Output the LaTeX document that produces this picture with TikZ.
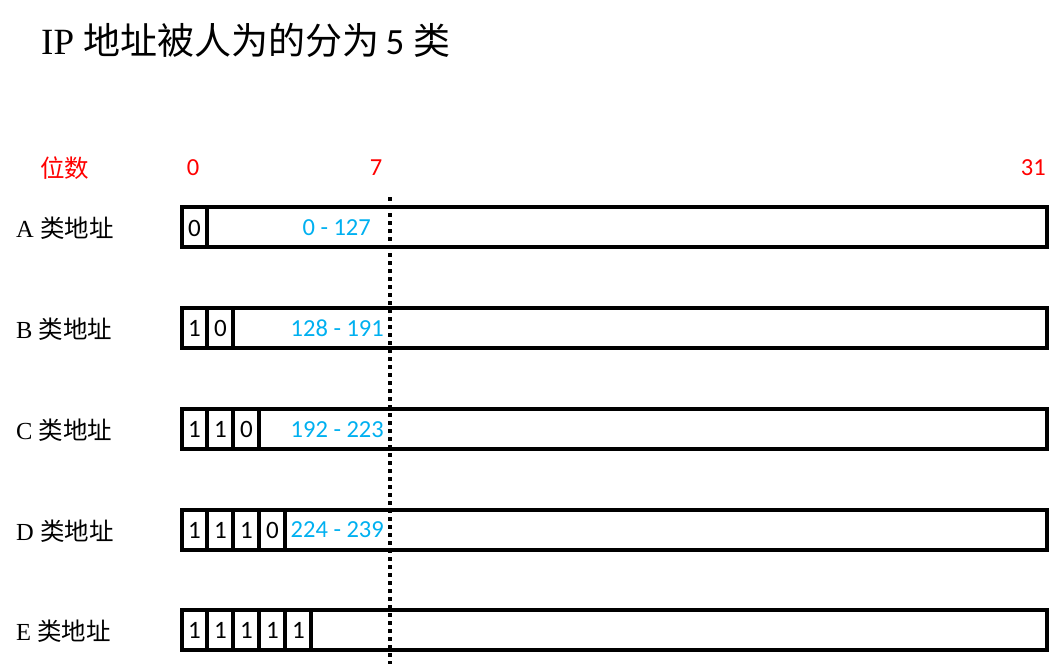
\documentclass[tikz,border=0pt]{standalone}
\usepackage{fontspec}
\setmainfont{Liberation Serif}
\newfontfamily\cjk{Noto Sans CJK SC}
\newfontfamily\calib{Carlito}
\definecolor{ipblue}{RGB}{0,176,240}
\definecolor{ipred}{RGB}{255,0,0}
\begin{document}
\begin{tikzpicture}[x=1pt,y=-1pt,
  ipbox/.style={draw=black,line width=4pt,outer sep=0pt},
  cellline/.style={draw=black,line width=4pt},
  rowlabel/.style={anchor=west,inner sep=0pt,font=\fontsize{24.5}{28}\selectfont},
  bitnum/.style={inner sep=0pt,font=\calib\fontsize{25}{28}\selectfont},
  rangetxt/.style={anchor=east,inner sep=0pt,text=ipblue,font=\calib\fontsize{24.5}{28}\selectfont},
  poslabel/.style={inner sep=0pt,text=ipred,font=\calib\fontsize{24.5}{28}\selectfont}]
\useasboundingbox (0,0) rectangle (1063,664);
% title
\node[anchor=west,inner sep=0pt,font=\fontsize{37}{42}\selectfont] (title) at (41,40) {IP {\cjk 地址被人为的分为}\,{\calib 5} {\cjk 类}};
% position labels
\node[poslabel,font=\cjk\fontsize{24.5}{28}\selectfont,anchor=west] (pos) at (40,168) {位数};
\node[poslabel] (p0) at (193,168) {0};
\node[poslabel] (p7) at (376,168) {7};
\node[poslabel,anchor=east] (p31) at (1046,168) {31};
% rows
\foreach \n/\t/\lab in {A/207/A,B/308/B,C/409/C,D/510/D,E/610/E}{
  \node[ipbox,minimum width=865pt,minimum height=40pt,anchor=north west,inner sep=0pt] (box\n) at (182,\t) {};
  \node[rowlabel] (lab\n) at (16,\t+21) {\lab\ {\cjk 类地址}};
}
% cells
\draw[cellline] (boxA.north west) ++(25,0) coordinate (a1) -- (a1 |- boxA.south);
\node[bitnum] (cA1) at (194.5,228) {0};
\node[rangetxt] (rA) at (371,228) {0 - 127};

\draw[cellline] (boxB.north west) ++(25,0) coordinate (b1) -- (b1 |- boxB.south);
\draw[cellline] (boxB.north west) ++(51,0) coordinate (b2) -- (b2 |- boxB.south);
\node[bitnum] (cB1) at (194.5,328.5) {1};
\node[bitnum] (cB2) at (220.5,328.5) {0};
\node[rangetxt] (rB) at (384,328.5) {128 - 191};

\foreach \k in {1,2,3}{
  \draw[cellline] (boxC.north west) ++(\k*26-1,0) coordinate (c\k) -- (c\k |- boxC.south);
}
\node[bitnum] (cC1) at (194.5,429.5) {1};
\node[bitnum] (cC2) at (220.5,429.5) {1};
\node[bitnum] (cC3) at (246.5,429.5) {0};
\node[rangetxt] (rC) at (384,429.5) {192 - 223};

\foreach \k in {1,2,3,4}{
  \draw[cellline] (boxD.north west) ++(\k*26-1,0) coordinate (d\k) -- (d\k |- boxD.south);
}
\node[bitnum] (cD1) at (194.5,530) {1};
\node[bitnum] (cD2) at (220.5,530) {1};
\node[bitnum] (cD3) at (246.5,530) {1};
\node[bitnum] (cD4) at (272.5,530) {0};
\node[rangetxt] (rD) at (384,530) {224 - 239};

\foreach \k in {1,2,3,4,5}{
  \draw[cellline] (boxE.north west) ++(\k*26-1,0) coordinate (e\k) -- (e\k |- boxE.south);
}
\node[bitnum] (cE1) at (194.5,630.5) {1};
\node[bitnum] (cE2) at (220.5,630.5) {1};
\node[bitnum] (cE3) at (246.5,630.5) {1};
\node[bitnum] (cE4) at (272.5,630.5) {1};
\node[bitnum] (cE5) at (298.5,630.5) {1};
% dotted divider
\coordinate (dtop) at (389.5,197);
\coordinate (dbot) at (389.5,664);
\draw[line width=4pt,dash pattern=on 4pt off 4pt] (dtop) -- (dbot);
\end{tikzpicture}
\end{document}
